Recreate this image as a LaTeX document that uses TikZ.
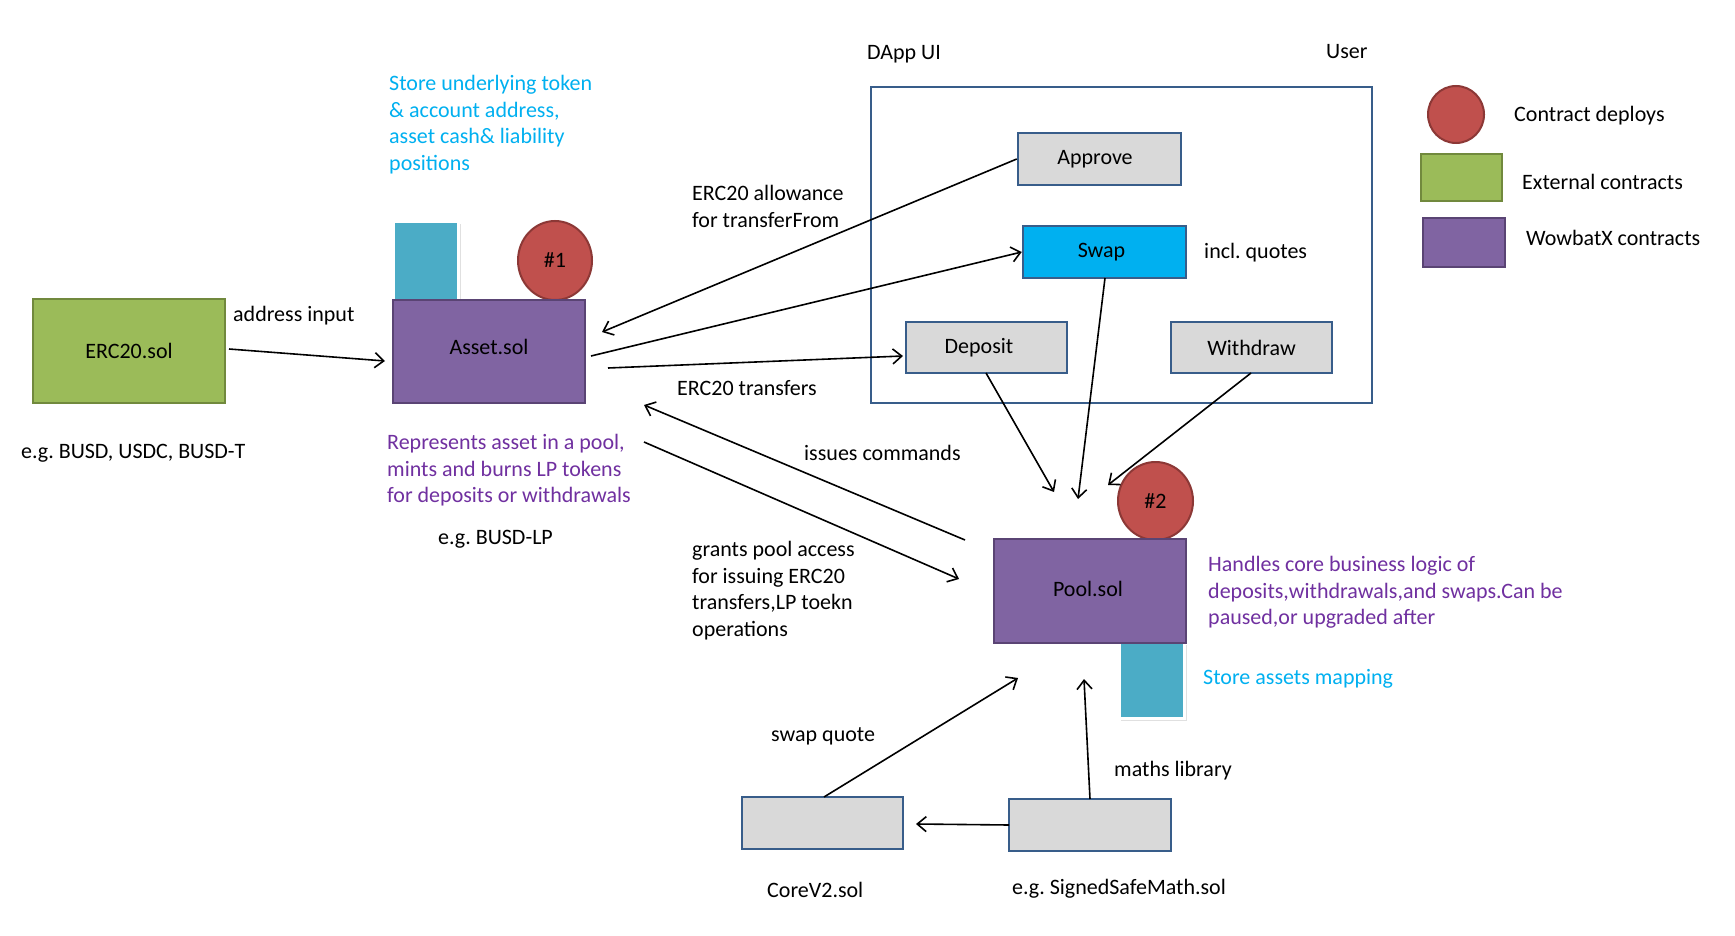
\documentclass[tikz,border=0pt]{standalone}
\usepackage{fontspec}
\setmainfont{Carlito}
\usetikzlibrary{arrows.meta,shapes.geometric}
\definecolor{grn}{RGB}{155,187,89}
\definecolor{grnD}{RGB}{113,137,61}
\definecolor{pur}{RGB}{128,100,162}
\definecolor{purD}{RGB}{90,68,116}
\definecolor{redF}{RGB}{192,80,77}
\definecolor{redD}{RGB}{140,56,54}
\definecolor{gry}{RGB}{217,217,217}
\definecolor{bluD}{RGB}{56,93,138}
\definecolor{sky}{RGB}{0,176,240}
\definecolor{tealF}{RGB}{75,172,198}
\definecolor{ptxt}{RGB}{112,48,160}
\frenchspacing
\begin{document}
\begin{tikzpicture}[x=1pt,y=-1pt,
  font=\fontsize{22}{26.7}\selectfont\frenchspacing,
  uibox/.style={draw=bluD, line width=2.5pt, fill=gry, minimum width=162pt, minimum height=51pt, inner sep=0pt},
  extbox/.style={draw=grnD, line width=2.5pt, fill=grn, inner sep=0pt},
  wbox/.style={draw=purD, line width=2.5pt, fill=pur, inner sep=0pt},
  deploy/.style={ellipse, draw=redD, line width=2pt, fill=redF, inner sep=0pt},
  store/.style={draw=white, line width=3pt, fill=tealF, inner sep=0pt},
  lbl/.style={anchor=west, inner sep=0pt},
  mlbl/.style={anchor=north west, inner sep=0pt, align=left},
  arr/.style={-{Straight Barb[length=9pt,width=15pt,line width=1.6pt]}, line width=1.6pt},
]
\useasboundingbox (0,0) rectangle (1735,936);
\fill[white] (0,0) rectangle (1735,936);

% storage rectangles (behind)
\fill[black!12] (395,224) rectangle (461,304);
\node[store, minimum width=65pt, minimum height=80pt] (st1) at (426,261.5) {};
\fill[black!12] (1121,645) rectangle (1187,721);
\node[store, minimum width=65pt, minimum height=77pt] (st2) at (1152,680) {};

% deploy circles
\node[deploy, minimum width=74pt, minimum height=79pt] (d1) at (555,260.5) {\#1};
\node[deploy, minimum width=75pt, minimum height=78pt] (d2) at (1155.5,501) {\#2};

% main contracts
\node[extbox, minimum width=192pt, minimum height=104pt] (erc) at (129,351) {ERC20.sol};
\node[wbox, minimum width=192pt, minimum height=103pt] (asset) at (489,351.5) {};
\node[inner sep=0pt] (tasset) at (489,347) {Asset.sol};
\node[wbox, minimum width=192pt, minimum height=104pt] (pool) at (1090,591) {};
\node[inner sep=0pt] (tpool) at (1088,589) {Pool.sol};

% DApp UI frame
\node[draw=bluD, line width=2.5pt, minimum width=501pt, minimum height=316pt, inner sep=0pt] (dapp) at (1121.5,245) {};
\node[uibox, minimum width=163pt, minimum height=52pt] (approve) at (1099.5,159) {\hspace*{-9pt}Approve};
\node[uibox, fill=sky, minimum width=163pt, minimum height=52pt] (swap) at (1104.5,252) {\hspace*{-6pt}Swap};
\node[uibox, minimum width=161pt] (deposit) at (986.5,347.5) {\hspace*{-15pt}Deposit};
\node[uibox, minimum width=161pt] (withdraw) at (1251.5,347.5) {Withdraw};

% libraries
\node[uibox, minimum width=161pt, minimum height=52pt] (core) at (822.5,823) {};
\node[uibox, minimum width=162pt, minimum height=52pt] (ssm) at (1090,825) {};

% legend
\node[deploy, minimum width=56pt, minimum height=57pt] (lgd) at (1456,114.5) {};
\node[extbox, minimum width=81pt, minimum height=47pt] (lge) at (1461.5,177.5) {};
\node[wbox, minimum width=82pt, minimum height=49pt] (lgw) at (1464,242.5) {};
\node[lbl] (tlgd) at (1514,116) {Contract deploys};
\node[lbl] (tlge) at (1522,182) {External contracts};
\node[lbl] (tlgw) at (1526,238) {WowbatX contracts};

% free arrow ends
\coordinate (a1s) at (229,349);  \coordinate (a1e) at (385,361);
\coordinate (a2e) at (602,332);
\coordinate (a3s) at (591,356);
\coordinate (a4s) at (608,368);  \coordinate (a4e) at (903,356);
\coordinate (a5s) at (965,540);  \coordinate (a5e) at (644,405);
\coordinate (a6s) at (644,442);  \coordinate (a6e) at (959,579);
\coordinate (a7s) at (986,373);  \coordinate (a7e) at (1054,492);
\coordinate (a8s) at (1105,278); \coordinate (a8e) at (1078,499);
\coordinate (a9s) at (1251,373); \coordinate (a9e) at (1108,485);
\coordinate (a10s) at (824,797); \coordinate (a10e) at (1018,678);
\coordinate (a11s) at (1090,799); \coordinate (a11e) at (1084,679);
\coordinate (a12s) at (1009,825); \coordinate (a12e) at (916,824);

\draw[arr] (a1s) -- (a1e);
\draw[arr] (approve.west) -- (a2e);
\draw[arr] (a3s) -- (swap.west);
\draw[arr] (a4s) -- (a4e);
\draw[arr] (a5s) -- (a5e);
\draw[arr] (a6s) -- (a6e);
\draw[arr] (a7s) -- (a7e);
\draw[arr] (a8s) -- (a8e);
\draw[arr] (a9s) -- (a9e);
\draw[arr] (a10s) -- (a10e);
\draw[arr] (a11s) -- (a11e);
\draw[arr] (a12s) -- (a12e);

% texts
\node[lbl] (tdapp) at (867,54) {DApp UI};
\node[lbl] (tuser) at (1326,52) {User};
\node[lbl] (tincl) at (1204,253) {incl. quotes};
\node[mlbl, text=sky] (tstore1) at (389,75) {Store underlying token\\\& account address,\\asset cash\& liability\\positions};
\node[mlbl] (tallow) at (692,185) {ERC20 allowance\\for transferFrom};
\node[lbl] (taddr) at (233,316) {address input};
\node[lbl] (ttrans) at (677,388) {ERC20 transfers};
\node[lbl] (tbusd) at (21,453) {e.g. BUSD, USDC, BUSD-T};
\node[mlbl, text=ptxt] (trep) at (387,434) {Represents asset in a pool,\\mints and burns LP tokens\\for deposits or withdrawals};
\node[lbl] (tblp) at (438,539) {e.g. BUSD-LP};
\node[lbl] (tissue) at (804,453) {issues commands};
\node[mlbl] (tgrant) at (692,541) {grants pool access\\for issuing ERC20\\transfers,LP toekn\\operations};
\node[lbl] (tsq) at (771,736) {swap quote};
\node[lbl] (tcore) at (767,890) {CoreV2.sol};
\node[lbl] (tmath) at (1114,771) {maths library};
\node[lbl] (tssm) at (1012,889) {e.g. SignedSafeMath.sol};
\node[mlbl, text=ptxt] (thandle) at (1208,556) {Handles core business logic of\\deposits,withdrawals,and swaps.Can be\\paused,or upgraded after};
\node[lbl, text=sky] (tmap) at (1203,679) {Store assets mapping};
\end{tikzpicture}
\end{document}
